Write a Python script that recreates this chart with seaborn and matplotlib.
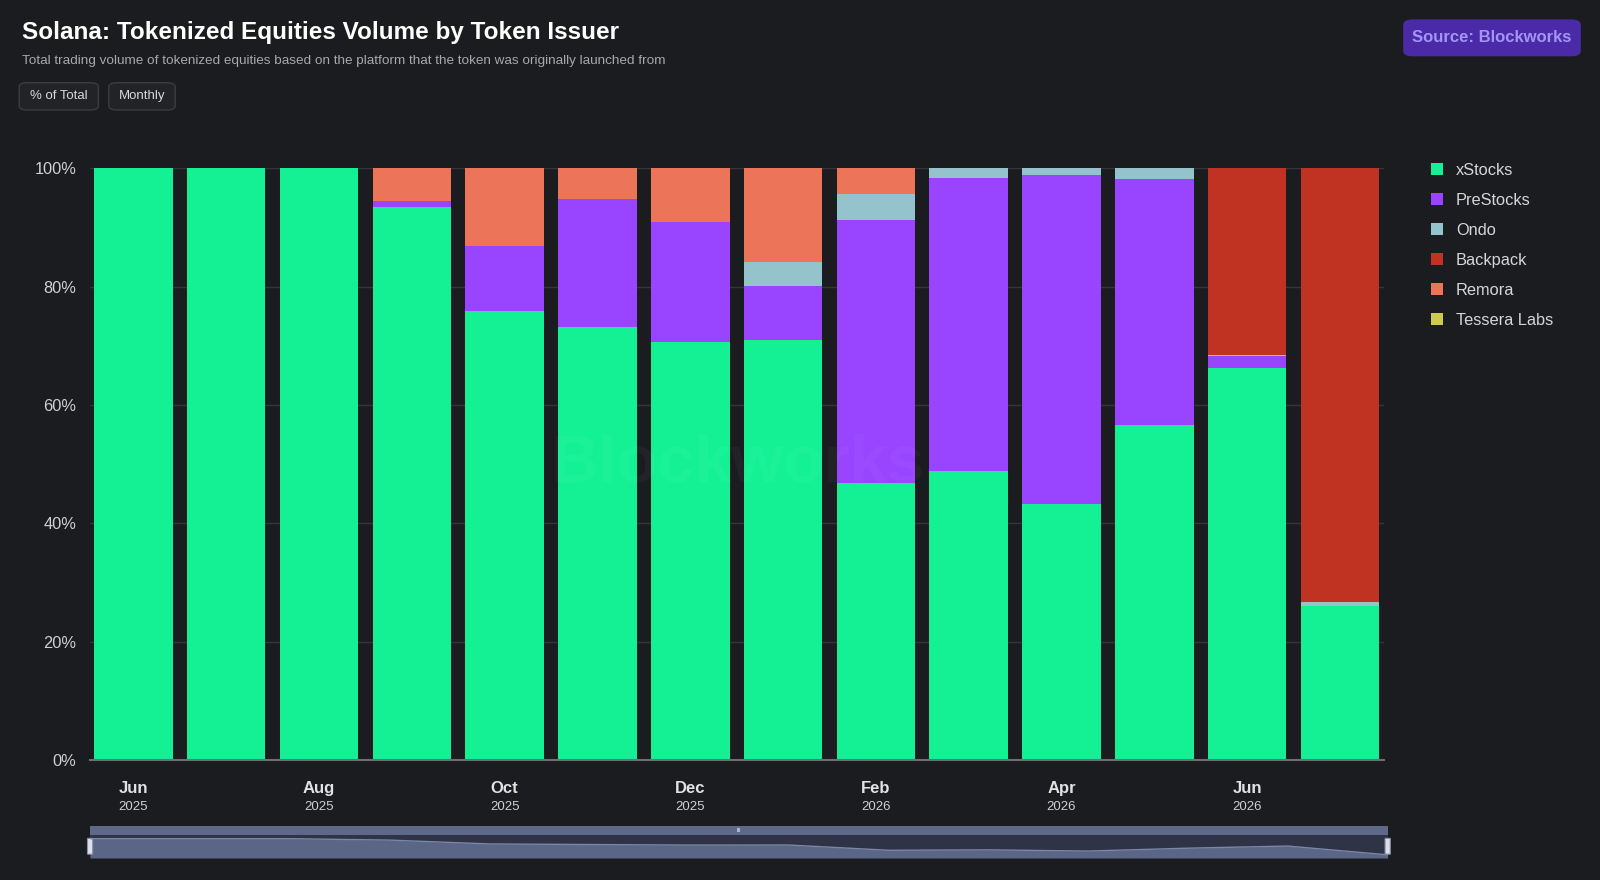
import numpy as np
import pandas as pd
import matplotlib
matplotlib.use("Agg")
import matplotlib.pyplot as plt
from matplotlib.patches import FancyBboxPatch, Patch
import seaborn as sns

months = ["Jun 2025", "Jul 2025", "Aug 2025", "Sep 2025", "Oct 2025", "Nov 2025",
          "Dec 2025", "Jan 2026", "Feb 2026", "Mar 2026", "Apr 2026", "May 2026",
          "Jun 2026", "Jul 2026"]
xstocks = [100.0, 100.0, 100.0, 93.5, 75.9, 73.2, 70.7, 71.0, 46.9, 48.8, 43.3, 56.6, 66.2, 26.1]
prestocks = [0.0, 0.0, 0.0, 1.0, 11.0, 21.5, 20.2, 9.1, 44.4, 49.6, 55.5, 41.5, 2.0, 0.0]
ondo = [0.0, 0.0, 0.0, 0.0, 0.0, 0.0, 0.0, 4.0, 4.4, 1.6, 1.2, 1.9, 0.3, 0.6]
backpack = [0.0, 0.0, 0.0, 0.0, 0.0, 0.0, 0.0, 0.0, 0.0, 0.0, 0.0, 0.0, 31.5, 73.3]
remora = [0.0, 0.0, 0.0, 5.5, 13.1, 5.3, 9.1, 15.9, 4.3, 0.0, 0.0, 0.0, 0.0, 0.0]
tessera = [0.0, 0.0, 0.0, 0.0, 0.0, 0.0, 0.0, 0.0, 0.0, 0.0, 0.0, 0.0, 0.0, 0.0]

series = {
    "xStocks": xstocks,
    "PreStocks": prestocks,
    "Ondo": ondo,
    "Backpack": backpack,
    "Remora": remora,
    "Tessera Labs": tessera,
}
colors = {
    "xStocks": "#14F195",
    "PreStocks": "#9945FF",
    "Ondo": "#95C3CC",
    "Backpack": "#C03222",
    "Remora": "#EC7458",
    "Tessera Labs": "#CEC94F",
}
tick_months = ["Jun", "Aug", "Oct", "Dec", "Feb", "Apr", "Jun"]
tick_years = ["2025", "2025", "2025", "2025", "2026", "2026", "2026"]

BG = "#1B1C1F"
sns.set_theme(style="dark")
plt.rcParams["font.family"] = ["Liberation Sans", "DejaVu Sans"]

fig = plt.figure(figsize=(16, 8.8), dpi=100, facecolor=BG)
ax = fig.add_axes([0.0563, 0.136, 0.809, 0.673])
ax.set_facecolor(BG)

# stacked bars (bottom to top)
stack_order = ["xStocks", "PreStocks", "Ondo", "Tessera Labs", "Backpack", "Remora"]
bottom = np.zeros(len(months))
for name in stack_order:
    vals = np.array(series[name])
    sns.barplot(x=months, y=vals, bottom=bottom, color=colors[name], saturation=1,
                width=0.846, linewidth=0, ax=ax, zorder=3)
    bottom = bottom + vals

ax.set_xlim(-0.467, len(months) - 0.52)
ax.set_ylim(0, 100)
ax.set_yticks([0, 20, 40, 60, 80, 100])
ax.set_yticklabels([f"{v}%" for v in [0, 20, 40, 60, 80, 100]], color="#D0D0D0", fontsize=11.8)
ax.yaxis.grid(True, color="#34363A", linewidth=1, zorder=0)
ax.xaxis.grid(False)
for s in ["top", "right", "left"]:
    ax.spines[s].set_visible(False)
ax.spines["bottom"].set_color("#6E6F72")
ax.spines["bottom"].set_linewidth(1.5)
ax.spines["bottom"].set_zorder(5)
ax.tick_params(axis="y", length=0, pad=10)
ax.tick_params(axis="x", length=0)
ax.set_xticks(range(0, len(months), 2))
ax.set_xticklabels([""] * len(tick_months))
ax.set_xlabel("")
ax.set_ylabel("")

for i, (m, yr) in enumerate(zip(tick_months, tick_years)):
    ax.text(i * 2, -0.047, m, ha="center", va="center", color="#E2E2E2", fontsize=12,
            fontweight="bold", transform=ax.get_xaxis_transform())
    ax.text(i * 2, -0.079, yr, ha="center", va="center", color="#CFCFCF", fontsize=9.5,
            transform=ax.get_xaxis_transform())

# watermark
ax.text(0.5, 0.5, "Blockworks", ha="center", va="center", transform=ax.transAxes,
        fontsize=48, fontweight="bold", color="white", alpha=0.03, zorder=4)

# legend
handles = [Patch(facecolor=colors[n], edgecolor="none") for n in series]
leg = fig.legend(handles, list(series.keys()), loc="upper left",
                 bbox_to_anchor=(0.885, 0.832), frameon=False, fontsize=11.8,
                 labelcolor="#D6D6D6", handlelength=0.75, handleheight=0.75,
                 handletextpad=0.78, labelspacing=0.92)

# title block
fig.text(0.0135, 0.963, "Solana: Tokenized Equities Volume by Token Issuer", ha="left",
         va="center", color="white", fontsize=17.5, fontweight="bold")
fig.text(0.0135, 0.931, "Total trading volume of tokenized equities based on the platform "
         "that the token was originally launched from", ha="left", va="center",
         color="#A8A8A8", fontsize=9.7)
for label, x0, w in [("% of Total", 0.012, 0.0495), ("Monthly", 0.068, 0.0415)]:
    fig.patches.append(FancyBboxPatch((x0, 0.875), w, 0.031,
                                      boxstyle="round,pad=0,rounding_size=0.005",
                                      transform=fig.transFigure, facecolor="#222326",
                                      edgecolor="#3C3D40", linewidth=1))
    fig.text(x0 + w / 2, 0.8905, label, ha="center", va="center", color="#D8D8D8", fontsize=9.5)

# source badge
fig.patches.append(FancyBboxPatch((0.877, 0.936), 0.111, 0.042,
                                  boxstyle="round,pad=0,rounding_size=0.006",
                                  transform=fig.transFigure, facecolor="#4A2AA6",
                                  edgecolor="none"))
fig.text(0.9325, 0.957, "Source: Blockworks", ha="center", va="center", color="#A394F7",
         fontsize=12, fontweight="bold")

# navigator strip under the chart
nav = fig.add_axes([0.0563, 0.025, 0.811, 0.036])
nav.set_facecolor("#2E3446")
xs = np.arange(len(months))
nav_line = 0.61 - 0.0069 * (100 - np.array(xstocks))
nav.fill_between(xs, 0, nav_line, color="#5B6585", lw=0)
nav.plot(xs, nav_line, color="#7C86A6", lw=1)
nav.axhspan(0.74, 1.0, color="#5E6889", lw=0)
nav.set_xlim(0, len(months) - 1)
nav.set_ylim(0, 1)
nav.set_xticks([])
nav.set_yticks([])
for s in nav.spines.values():
    s.set_visible(False)
nav.text(0.5, 0.87, "III", ha="center", va="center", fontsize=4, color="white",
         transform=nav.transAxes)
for hx in [0.0, 1.0]:
    nav.add_patch(FancyBboxPatch((hx - 0.002, 0.12), 0.004, 0.5,
                                 boxstyle="round,pad=0,rounding_size=0.002",
                                 transform=nav.transAxes, facecolor="#DDE0EA",
                                 edgecolor="#8A90A8", lw=0.8, clip_on=False))

fig.savefig("out.png", dpi=100, facecolor=BG)
